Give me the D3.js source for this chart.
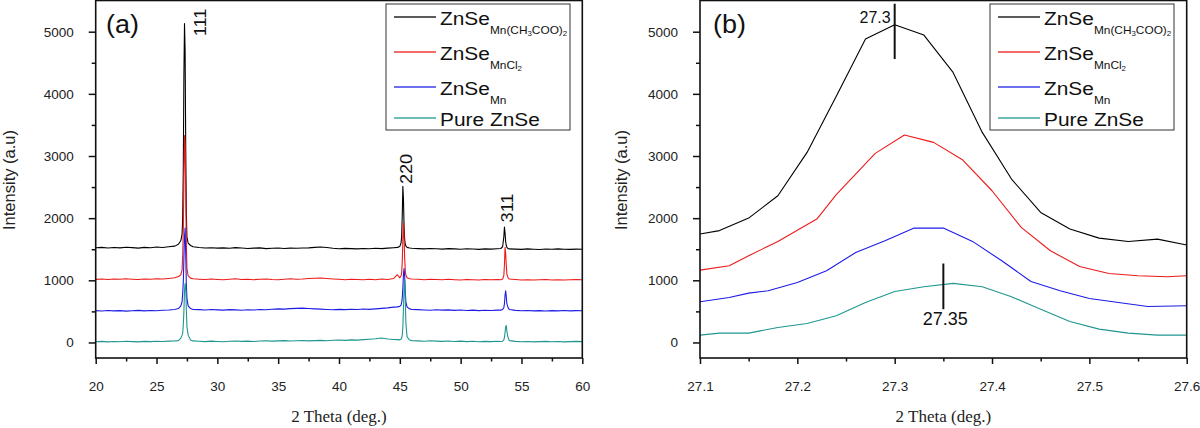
<!DOCTYPE html>
<html><head><meta charset="utf-8">
<script src="https://cdn.jsdelivr.net/npm/d3@7"></script>
<style>body{margin:0;background:#fff}svg{display:block}</style>
</head><body>
<svg id="c" width="1200" height="428"></svg>
<script>
// ---------- DATA ----------
const seriesNames = ["ZnSe_Mn(CH3COO)2", "ZnSe_MnCl2", "ZnSe_Mn", "Pure ZnSe"];
const seriesColors = ["#000000", "#ee1a1a", "#1c1ce6", "#1f968f"];

// Panel (a): 2-theta grid (deg)
const xA = [20,20.5,21,21.5,22,22.5,23,23.5,24,24.5,25,25.5,26,26.5,
 26.8,27.0,27.1,27.15,27.2,27.25,27.3,27.35,27.4,27.45,27.5,27.6,27.8,28.0,
 28.5,29,29.5,30,30.5,31,31.5,32,32.5,33,33.5,34,34.5,35,35.5,36,36.5,37,37.5,38,38.5,39,39.5,40,40.5,41,41.5,42,42.5,43,43.5,44,44.5,
 44.8,45.0,45.1,45.15,45.2,45.25,45.3,45.35,45.4,45.45,45.5,45.6,45.8,46.0,
 46.5,47,47.5,48,48.5,49,49.5,50,50.5,51,51.5,52,52.5,53,
 53.3,53.45,53.55,53.6,53.65,53.7,53.75,53.8,53.9,54.0,
 54.5,55,55.5,56,56.5,57,57.5,58,58.5,59,59.5,60];

const aBlack = [1525,1530,1520,1528,1522,1532,1526,1518,1530,1524,1535,1528,1540,1550,
 1580,1640,1744,2000,2800,4300,5130,4700,3150,2092,1700,1600,1560,1540,
 1528,1520,1525,1518,1522,1515,1526,1520,1512,1518,1522,1510,1516,1520,1512,1518,1516,1520,1522,1530,1536,1528,1516,1508,1514,1510,1506,1512,1508,1515,1510,1518,1525,
 1530,1545,1600,1700,2050,2512,2300,1850,1650,1580,1550,1530,1520,1515,
 1510,1505,1512,1508,1502,1510,1506,1500,1508,1504,1498,1506,1502,1508,
 1512,1540,1700,1856,1760,1620,1560,1530,1510,1505,
 1502,1498,1505,1500,1496,1503,1499,1505,1500,1497,1502,1500];

const aRed = [1015,1022,1012,1020,1016,1024,1018,1012,1022,1016,1026,1020,1030,1040,
 1060,1090,1164,1395,1800,2600,3330,3130,2430,1600,1190,1073,1035,1025,
 1018,1012,1020,1014,1010,1018,1024,1012,1016,1010,1018,1022,1014,1010,1018,1024,1016,1020,1028,1034,1038,1030,1022,1016,1010,1018,1012,1008,1016,1010,1020,1014,1030,
 1090,1040,1070,1120,1300,1650,1920,1700,1350,1150,1080,1040,1025,1020,
 1016,1010,1018,1012,1008,1016,1010,1006,1014,1010,1004,1012,1008,1014,
 1010,1020,1080,1250,1530,1440,1250,1100,1040,1020,
 1012,1006,1010,1004,1008,1012,1005,1010,1004,1008,1012,1010];

const aBlue = [512,506,515,508,512,504,510,516,508,514,510,518,522,530,
 545,590,655,790,966,1350,1700,1840,1420,940,708,590,545,530,
 528,522,530,524,520,528,524,518,526,522,530,526,534,540,536,544,548,552,546,540,536,530,526,532,528,534,530,538,532,540,548,556,568,
 572,580,600,640,720,880,1100,1190,1050,800,650,570,540,530,
 528,522,518,526,520,524,516,522,514,520,512,518,514,520,
 520,530,560,620,760,830,740,620,560,530,
 516,510,514,508,512,506,512,508,514,508,512,510];

const aTeal = [12,18,10,16,12,20,14,10,18,14,20,16,22,26,
 30,70,118,150,280,500,830,950,880,536,250,118,40,25,
 20,14,22,16,12,20,24,18,22,16,24,28,22,26,30,24,28,32,26,30,34,28,36,40,34,42,38,46,52,60,72,56,48,
 45,42,50,70,120,250,550,880,1000,700,300,90,40,30,
 26,20,28,22,18,24,16,22,14,20,12,18,14,20,
 15,20,40,80,160,250,272,180,80,30,
 18,12,16,10,14,18,12,16,10,14,18,14];

const aPeakLabels = ["111", "220", "311"];
const aPeakPos = [27.3, 45.27, 53.6];

// Panel (b): zoom on the (111) peak
const bBlackX = [27.1,27.12,27.15,27.18,27.21,27.24,27.27,27.3,27.33,27.36,27.39,27.42,27.45,27.48,27.51,27.54,27.57,27.6];
const bBlackY = [1744,1800,2001,2360,3058,3960,4882,5113,4946,4345,3380,2629,2092,1824,1679,1625,1663,1567];
const bRedX = [27.1,27.13,27.15,27.18,27.22,27.24,27.28,27.31,27.34,27.37,27.4,27.43,27.46,27.49,27.52,27.55,27.58,27.6];
const bRedY = [1164,1234,1395,1625,1985,2380,3042,3337,3219,2935,2441,1851,1475,1223,1110,1073,1057,1073];
const bBlueX = [27.1,27.13,27.15,27.17,27.2,27.23,27.26,27.29,27.32,27.35,27.38,27.41,27.44,27.47,27.5,27.53,27.56,27.6];
const bBlueY = [655,724,794,832,966,1153,1448,1636,1840,1840,1626,1314,982,832,708,644,579,590];
const bTealX = [27.1,27.12,27.15,27.18,27.21,27.24,27.27,27.3,27.33,27.36,27.39,27.42,27.45,27.48,27.51,27.54,27.57,27.6];
const bTealY = [118,150,150,241,306,429,644,821,896,950,896,735,536,338,215,150,118,118];

const bMarkX = [27.3, 27.35];
const bMarkLow = [4560, 535];
const bMarkHigh = [5450, 1270];
const bMarkLabels = ["27.3", "27.35"];

const yMajor = [0,1000,2000,3000,4000,5000];
const yMinor = [500,1500,2500,3500,4500];
const xMajorA = [20,25,30,35,40,45,50,55,60];
const xMinorA = [22.5,27.5,32.5,37.5,42.5,47.5,52.5,57.5];
const xMajorB = [27.1,27.2,27.3,27.4,27.5,27.6];
const xMinorB = [27.15,27.25,27.35,27.45,27.55];

const xTitle = "2 Theta (deg.)";
const yTitle = "Intensity (a.u)";
const panelTags = ["(a)", "(b)"];

// legend label parts: [text, level] level 0 normal, 1 subscript, 2 sub-subscript
const legendParts = [
  [["ZnSe",0],["Mn(CH",1],["3",2],["COO)",1],["2",2]],
  [["ZnSe",0],["MnCl",1],["2",2]],
  [["ZnSe",0],["Mn",1]],
  [["Pure ZnSe",0]]
];

// ---------- DRAW ----------
const svg = d3.select("#c");
const SANS = "'Liberation Sans', Arial, Helvetica, sans-serif";
const SERIF = "'Liberation Serif', 'Times New Roman', serif";
const TOP = 0, BOT = 358;
const y = d3.scaleLinear().domain([-250, 5510]).range([BOT, TOP]);

function drawPanel(p) {
  const g = svg.append("g");
  const x = d3.scaleLinear().domain(p.xDomain).range([p.left, p.right]);
  const cid = "clip" + p.key;
  svg.append("clipPath").attr("id", cid).append("rect")
    .attr("x", p.left).attr("y", TOP).attr("width", p.right - p.left).attr("height", BOT - TOP);
  const line = d3.line().x(d => x(d[0])).y(d => y(d[1]));
  p.series.forEach((s, i) => {
    const pts = s.x.map((xv, k) => [xv, s.y[k]]);
    g.append("path").attr("clip-path", `url(#${cid})`)
      .attr("d", line(pts)).attr("fill", "none")
      .attr("stroke", seriesColors[i]).attr("stroke-width", 1.1)
      .attr("stroke-linejoin", "round");
  });
  // axes
  const ax = g.append("g").attr("transform", `translate(0,${BOT})`)
    .call(d3.axisBottom(x).tickValues(p.xMajor).tickSize(6).tickPadding(17).tickFormat(d3.format(p.fmt)));
  const axm = g.append("g").attr("transform", `translate(0,${BOT})`)
    .call(d3.axisBottom(x).tickValues(p.xMinor).tickSize(3.5).tickFormat(""));
  const ay = g.append("g").attr("transform", `translate(${p.left},0)`)
    .call(d3.axisLeft(y).tickValues(yMajor).tickSize(7).tickPadding(15).tickFormat(d3.format("d")));
  const aym = g.append("g").attr("transform", `translate(${p.left},0)`)
    .call(d3.axisLeft(y).tickValues(yMinor).tickSize(4).tickFormat(""));
  [ax, axm, ay, aym].forEach(a => {
    a.select(".domain").remove();
    a.selectAll("line").attr("stroke", "#111").attr("stroke-width", 1.5);
    a.selectAll("text").attr("font-family", SANS).attr("font-size", 13.5).attr("fill", "#222");
  });
  // frame
  g.append("rect").attr("x", p.left).attr("y", TOP + 0.5).attr("width", p.right - p.left).attr("height", BOT - TOP - 0.5)
    .attr("fill", "none").attr("stroke", "#111").attr("stroke-width", 1.6);
  // titles
  g.append("text").attr("x", (p.left + p.right) / 2).attr("y", 422).attr("text-anchor", "middle")
    .attr("font-family", SERIF).attr("font-size", 17).attr("fill", "#222").text(xTitle);
  g.append("text").attr("transform", `translate(${p.yTitleX},180) rotate(-90)`).attr("text-anchor", "middle")
    .attr("font-family", SANS).attr("font-size", 16.5).attr("fill", "#222").text(yTitle);
  g.append("text").attr("transform", `translate(${p.tagX},33) scale(1.08,1)`).attr("font-family", SANS).attr("font-size", 25)
    .attr("fill", "#111").text(p.tag);
  // legend
  const lx = p.legendX, ly = 4;
  g.append("rect").attr("x", lx).attr("y", ly).attr("width", 184).attr("height", 126)
    .attr("fill", "#fff").attr("stroke", "#333").attr("stroke-width", 1);
  const rowY = [17, 52, 87, 118];
  legendParts.forEach((parts, i) => {
    g.append("line").attr("x1", lx + 8).attr("x2", lx + 50).attr("y1", rowY[i]).attr("y2", rowY[i])
      .attr("stroke", seriesColors[i]).attr("stroke-width", 1.3).attr("opacity", 0.85);
    const t = g.append("text").attr("transform", `translate(${lx + 54},${rowY[i] + 7.5}) scale(1.13,1)`)
      .attr("font-family", SANS).attr("fill", "#111");
    let lvl = 0;
    parts.forEach(([txt, l]) => {
      const size = l === 0 ? 18.5 : (l === 1 ? 10.5 : 7);
      const off = { 0: 0, 1: 9, 2: 12 };
      t.append("tspan").attr("dy", off[l] - off[lvl]).attr("font-size", size).text(txt);
      lvl = l;
    });
  });
  return x;
}

const xa = drawPanel({
  key: "a", xDomain: [20, 60], left: 95.7, right: 582.3, fmt: "d",
  xMajor: xMajorA, xMinor: xMinorA, yTitleX: 15, tagX: 106, tag: panelTags[0], legendX: 386,
  series: [
    { x: xA, y: aBlack }, { x: xA, y: aRed }, { x: xA, y: aBlue }, { x: xA, y: aTeal }
  ]
});

// peak labels (a)
const peakLabelDX = [21, 8.5, 8.5];
const peakLabelY = [22.5, 169, 208];
aPeakPos.forEach((pp, i) => {
  svg.append("text").attr("transform", `translate(${xa(pp) + peakLabelDX[i]},${peakLabelY[i]}) rotate(-90) scale(1.1,1)`)
    .attr("text-anchor", "middle").attr("font-family", SANS).attr("font-size", 16.5).attr("fill", "#111")
    .text(aPeakLabels[i]);
});

const xb = drawPanel({
  key: "b", xDomain: [27.1, 27.6], left: 700, right: 1186.7, fmt: ".1f",
  xMajor: xMajorB, xMinor: xMinorB, yTitleX: 627, tagX: 713, tag: panelTags[1], legendX: 990,
  series: [
    { x: bBlackX, y: bBlackY }, { x: bRedX, y: bRedY }, { x: bBlueX, y: bBlueY }, { x: bTealX, y: bTealY }
  ]
});

bMarkX.forEach((mx, i) => {
  svg.append("line").attr("x1", xb(mx)).attr("x2", xb(mx)).attr("y1", y(bMarkLow[i])).attr("y2", y(bMarkHigh[i]))
    .attr("stroke", "#111").attr("stroke-width", 2);
});
svg.append("text").attr("x", xb(bMarkX[0]) - 4).attr("y", 23).attr("text-anchor", "end")
  .attr("font-family", SANS).attr("font-size", 16).attr("fill", "#111").text(bMarkLabels[0]);
svg.append("text").attr("x", xb(bMarkX[1]) + 2).attr("y", 325).attr("text-anchor", "middle")
  .attr("font-family", SANS).attr("font-size", 18).attr("fill", "#111").text(bMarkLabels[1]);
</script>
</body></html>
